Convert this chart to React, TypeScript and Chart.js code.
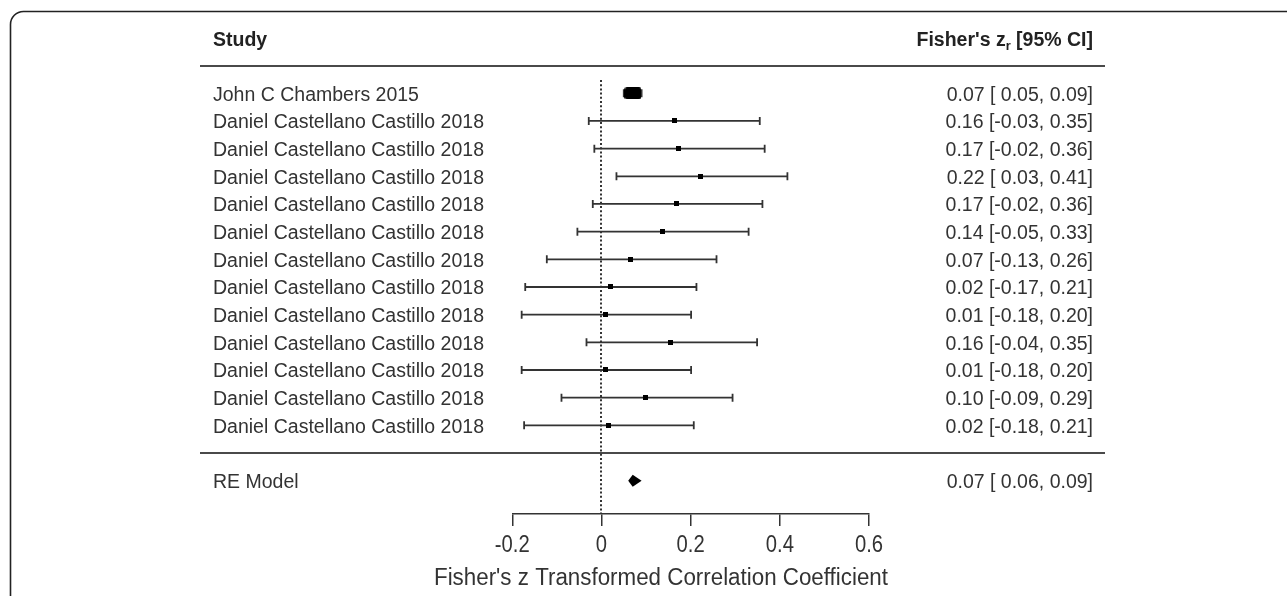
import React, { useEffect, useRef } from "react";
import { Chart, registerables } from "chart.js";

Chart.register(...registerables);

// ---------- data ----------
const studyLabels = [
  "John C Chambers 2015",
  "Daniel Castellano Castillo 2018",
  "Daniel Castellano Castillo 2018",
  "Daniel Castellano Castillo 2018",
  "Daniel Castellano Castillo 2018",
  "Daniel Castellano Castillo 2018",
  "Daniel Castellano Castillo 2018",
  "Daniel Castellano Castillo 2018",
  "Daniel Castellano Castillo 2018",
  "Daniel Castellano Castillo 2018",
  "Daniel Castellano Castillo 2018",
  "Daniel Castellano Castillo 2018",
  "Daniel Castellano Castillo 2018",
];
const estimates = [0.0706, 0.164, 0.172, 0.223, 0.169, 0.137, 0.066, 0.0195, 0.0097, 0.155, 0.0097, 0.0987, 0.015];
const lowerCI = [0.05, -0.0285, -0.016, 0.0336, -0.0195, -0.054, -0.1226, -0.171, -0.179, -0.0336, -0.179, -0.0897, -0.1735];
const upperCI = [0.09, 0.355, 0.366, 0.417, 0.361, 0.33, 0.258, 0.213, 0.201, 0.349, 0.201, 0.294, 0.207];
const annotations = [
  "0.07 [ 0.05, 0.09]",
  "0.16 [-0.03, 0.35]",
  "0.17 [-0.02, 0.36]",
  "0.22 [ 0.03, 0.41]",
  "0.17 [-0.02, 0.36]",
  "0.14 [-0.05, 0.33]",
  "0.07 [-0.13, 0.26]",
  "0.02 [-0.17, 0.21]",
  "0.01 [-0.18, 0.20]",
  "0.16 [-0.04, 0.35]",
  "0.01 [-0.18, 0.20]",
  "0.10 [-0.09, 0.29]",
  "0.02 [-0.18, 0.21]",
];
const summaryLabel = "RE Model";
const summaryEstimate = 0.07;
const summaryLower = 0.06;
const summaryUpper = 0.09;
const summaryAnnotation = "0.07 [ 0.06, 0.09]";
const xTickValues = [-0.2, 0, 0.2, 0.4, 0.6];
const xAxisTitle = "Fisher's z Transformed Correlation Coefficient";
const headerLeft = "Study";
const headerRightMain = "Fisher's z";
const headerRightSub = "r";
const headerRightTail = " [95% CI]";

// ---------- layout / style ----------
const W = 1287;
const H = 596;
const FONT = "'Liberation Sans', Arial, Helvetica, sans-serif";
const FS = 19.5;
const AXIS_FS = 23;
const TICK_SQUEEZE = 0.88;
const TITLE_WIDTH = 454;
const TITLE_CX = 661;
const TITLE_Y = 579;
const TICK_LABEL_Y = 546;
const TEXT = "#333333";
const LINE = "#333333";
const LABEL_X = 213;
const ANNOT_X = 1093;
const RULE_X0 = 200;
const RULE_X1 = 1105;
const TEXT_DY = 2;

const k = studyLabels.length;
const rows = studyLabels.map((_, i) => k - i);
const summaryRow = -1;

function markerImages(): HTMLCanvasElement[] {
  const w = lowerCI.map((lo, i) => (2 * 1.96) / (upperCI[i] - lo));
  const wmin = Math.min(...w);
  const wmax = Math.max(...w);
  return w.map((wi) => {
    const t = wmax > wmin ? (wi - wmin) / (wmax - wmin) : 0;
    const c = document.createElement("canvas");
    c.width = Math.round(5 + 12 * t);
    c.height = Math.round(5 + 7 * t);
    const cx = c.getContext("2d")!;
    cx.fillStyle = "#000";
    if (t > 0.5) {
      const r = 2.5;
      cx.beginPath();
      cx.moveTo(r, 0);
      cx.lineTo(c.width - r, 0);
      cx.quadraticCurveTo(c.width, 0, c.width, r);
      cx.lineTo(c.width, c.height - r);
      cx.quadraticCurveTo(c.width, c.height, c.width - r, c.height);
      cx.lineTo(r, c.height);
      cx.quadraticCurveTo(0, c.height, 0, c.height - r);
      cx.lineTo(0, r);
      cx.quadraticCurveTo(0, 0, r, 0);
      cx.fill();
    } else {
      cx.fillRect(0, 0, c.width, c.height);
    }
    return c;
  });
}

const forestPlugin = {
  id: "forestPlugin",
  beforeDatasetsDraw(chart: any) {
    const { ctx, chartArea } = chart;
    const xs = chart.scales.x;
    const ys = chart.scales.y;
    ctx.save();

    // frame
    ctx.strokeStyle = "#222";
    ctx.lineWidth = 1.6;
    ctx.beginPath();
    const fx = 10.5, fy = 11.5, fr = 13;
    ctx.moveTo(fx, H + 2);
    ctx.lineTo(fx, fy + fr);
    ctx.arcTo(fx, fy, fx + fr, fy, fr);
    ctx.lineTo(W + 2, fy);
    ctx.stroke();

    // header
    const yHead = ys.getPixelForValue(k + 2) + TEXT_DY + 1;
    ctx.fillStyle = "#222";
    ctx.textBaseline = "middle";
    ctx.font = `bold ${FS}px ${FONT}`;
    ctx.textAlign = "left";
    ctx.fillText(headerLeft, LABEL_X, yHead);
    ctx.textAlign = "right";
    const wTail = ctx.measureText(headerRightTail).width;
    ctx.fillText(headerRightTail, ANNOT_X, yHead);
    ctx.font = `bold ${FS * 0.66}px ${FONT}`;
    const wSub = ctx.measureText(headerRightSub).width;
    ctx.fillText(headerRightSub, ANNOT_X - wTail, yHead + 6);
    ctx.font = `bold ${FS}px ${FONT}`;
    ctx.fillText(headerRightMain, ANNOT_X - wTail - wSub, yHead);

    // horizontal rules
    ctx.strokeStyle = "#4a4a4a";
    ctx.lineWidth = 2;
    [k + 1, 0].forEach((r) => {
      const y = Math.round(ys.getPixelForValue(r));
      ctx.beginPath();
      ctx.moveTo(RULE_X0, y);
      ctx.lineTo(RULE_X1, y);
      ctx.stroke();
    });

    // reference line at 0
    const x0 = Math.round(xs.getPixelForValue(0));
    ctx.strokeStyle = LINE;
    ctx.lineWidth = 2;
    ctx.setLineDash([2, 2.2]);
    ctx.beginPath();
    ctx.moveTo(x0, chartArea.top);
    ctx.lineTo(x0, chartArea.bottom);
    ctx.stroke();
    ctx.setLineDash([]);

    // whiskers
    ctx.strokeStyle = LINE;
    ctx.lineWidth = 1.8;
    rows.forEach((r, i) => {
      const y = ys.getPixelForValue(r);
      const a = xs.getPixelForValue(lowerCI[i]);
      const b = xs.getPixelForValue(upperCI[i]);
      ctx.beginPath();
      ctx.moveTo(a, y);
      ctx.lineTo(b, y);
      ctx.moveTo(a, y - 4);
      ctx.lineTo(a, y + 4);
      ctx.moveTo(b, y - 4);
      ctx.lineTo(b, y + 4);
      ctx.stroke();
    });

    // texts
    ctx.fillStyle = TEXT;
    ctx.font = `${FS}px ${FONT}`;
    ctx.textBaseline = "middle";
    rows.forEach((r, i) => {
      const y = ys.getPixelForValue(r) + TEXT_DY;
      ctx.textAlign = "left";
      ctx.fillText(studyLabels[i], LABEL_X, y);
      ctx.textAlign = "right";
      ctx.fillText(annotations[i], ANNOT_X, y);
    });
    const yS = ys.getPixelForValue(summaryRow) + TEXT_DY;
    ctx.textAlign = "left";
    ctx.fillText(summaryLabel, LABEL_X, yS);
    ctx.textAlign = "right";
    ctx.fillText(summaryAnnotation, ANNOT_X, yS);

    // x-axis tick labels (taken from the scale's ticks), slightly condensed
    ctx.font = `${AXIS_FS}px ${FONT}`;
    ctx.textAlign = "center";
    xs.ticks.forEach((t: any) => {
      const x = xs.getPixelForValue(t.value);
      ctx.save();
      ctx.translate(x, TICK_LABEL_Y);
      ctx.scale(TICK_SQUEEZE, 1);
      ctx.fillText(String(Number(t.value)), 0, 0);
      ctx.restore();
    });

    // x-axis title
    const tw = ctx.measureText(xAxisTitle).width;
    ctx.save();
    ctx.translate(TITLE_CX, TITLE_Y);
    ctx.scale(TITLE_WIDTH / tw, 1);
    ctx.fillText(xAxisTitle, 0, 0);
    ctx.restore();

    ctx.restore();
  },
  afterDatasetsDraw(chart: any) {
    const { ctx } = chart;
    const xs = chart.scales.x;
    const ys = chart.scales.y;
    const y = ys.getPixelForValue(summaryRow);
    const h = 6;
    ctx.save();
    ctx.fillStyle = "#000";
    ctx.beginPath();
    ctx.moveTo(xs.getPixelForValue(summaryLower), y);
    ctx.lineTo(xs.getPixelForValue(summaryEstimate), y - h);
    ctx.lineTo(xs.getPixelForValue(summaryUpper), y);
    ctx.lineTo(xs.getPixelForValue(summaryEstimate), y + h);
    ctx.closePath();
    ctx.fill();
    ctx.restore();
  },
};

export default function App() {
  const ref = useRef<HTMLCanvasElement | null>(null);

  useEffect(() => {
    document.body.style.margin = "0";
    const canvas = ref.current;
    if (!canvas) return;
    const imgs = markerImages();
    const chart = new Chart(canvas, {
      type: "scatter",
      data: {
        datasets: [
          {
            data: estimates.map((x, i) => ({ x, y: rows[i] })),
            pointStyle: ((c: any) => imgs[c.dataIndex]) as any,
            pointRadius: 3,
            pointHoverRadius: 3,
            backgroundColor: "#000",
            borderColor: "#000",
          },
        ],
      },
      options: {
        animation: false,
        responsive: false,
        maintainAspectRatio: false,
        events: [],
        layout: { padding: { left: 512.3, right: 418, top: 80, bottom: 0 } },
        plugins: { legend: { display: false }, tooltip: { enabled: false } },
        scales: {
          x: {
            type: "linear",
            position: "bottom",
            min: -0.2,
            max: 0.6,
            afterBuildTicks: (s: any) => {
              s.ticks = xTickValues.map((v) => ({ value: v }));
            },
            afterFit: (s: any) => {
              s.height = 82;
            },
            grid: {
              display: true,
              drawOnChartArea: false,
              drawTicks: true,
              tickLength: 12,
              color: LINE,
              lineWidth: 1.5,
            },
            border: { display: true, color: LINE, width: 1.5 },
            ticks: { display: false, autoSkip: false },
            title: { display: false },
          },
          y: {
            type: "linear",
            display: false,
            min: -2.204,
            max: 13.48,
          },
        },
      },
      plugins: [forestPlugin],
    });
    return () => chart.destroy();
  }, []);

  return (
    <div style={{ width: W, height: H, background: "#fff" }}>
      <canvas ref={ref} width={W} height={H} style={{ display: "block" }} />
    </div>
  );
}
